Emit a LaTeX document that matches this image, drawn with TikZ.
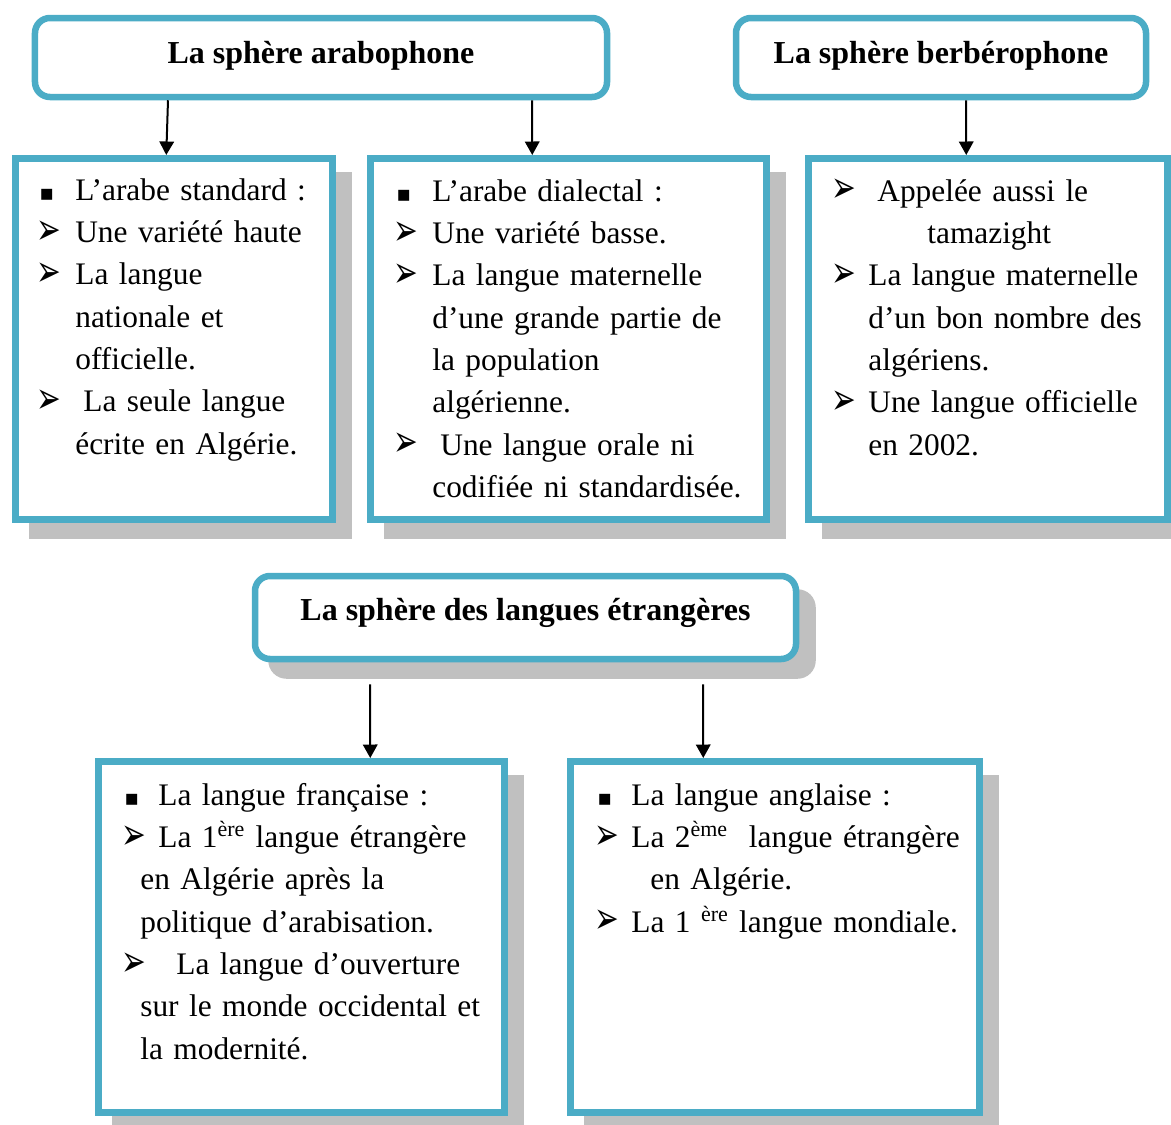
\documentclass[tikz,border=0pt]{standalone}
\usepackage{graphicx}
\usepackage{fontspec}
\setmainfont{Liberation Serif}
\newfontfamily\symfont{DejaVu Sans}
\usetikzlibrary{arrows.meta,calc,shadows}
\definecolor{boxblue}{HTML}{4BACC6}
\definecolor{shadowgray}{HTML}{C0C0C0}
\newdimen\pxu \pxu=0.2mm
\newcommand{\sqbul}[1]{\makebox[#1\pxu][l]{\hspace{1\pxu}\symfont\fontsize{12.5pt}{12pt}\selectfont ▪}}
\newcommand{\arbul}[1]{\makebox[#1\pxu][l]{\hspace{-2\pxu}\raisebox{-1pt}{\scalebox{0.8}[1.2]{\symfont\fontsize{21pt}{12pt}\selectfont ➢}}}}
\newcommand{\ind}[1]{\hspace*{#1\pxu}}
\tikzset{
  head/.style={draw=boxblue, line width=1.3mm, rounded corners=3mm, fill=white,
    font=\bfseries\fontsize{18.2pt}{24pt}\selectfont},
  panel/.style={draw=boxblue, line width=1.3mm, fill=white, anchor=north west},
  dshadow/.style={drop shadow={shadow xshift=3.3mm, shadow yshift=-3.3mm,
    fill=shadowgray, draw=shadowgray, opacity=1}},
  lines/.style={anchor=base west, align=left, text width=75mm, inner sep=0pt,
    font=\fontsize{17.85pt}{24.1pt}\selectfont},
  link/.style={-{Triangle[length=2.7mm,width=2.9mm]}, line width=0.4mm}
}
\begin{document}
\begin{tikzpicture}[x=0.2mm,y=-0.2mm]
  \useasboundingbox (0,0) rectangle (1171,1124);

  \node[head, minimum width=114.4mm, minimum height=15.8mm, text height=4mm, text depth=1.8mm]
    (hA) at (321,57.5) {La sphère arabophone};
  \node[head, minimum width=82mm, minimum height=15.8mm, text height=4mm, text depth=1.8mm]
    (hB) at (941,57.5) {La sphère berbérophone};

  \node[panel, dshadow, minimum width=63.4mm, minimum height=72.2mm] (b1) at (12,155) {};
  \node[panel, dshadow, minimum width=79.2mm, minimum height=72.2mm] (b2) at (367,155) {};
  \node[panel, dshadow, minimum width=71.8mm, minimum height=72.2mm] (b3) at (805,155) {};

  \node[lines] (t1) at ($(b1.north west)+(26,45)$) {%
    \sqbul{37}L’arabe standard :\\
    \arbul{37}Une variété haute\\
    \arbul{37}La langue\\
    \ind{37}nationale et\\
    \ind{37}officielle.\\
    \arbul{45}La seule langue\\
    \ind{37}écrite en Algérie.};
  \node[lines] (t2) at ($(b2.north west)+(28,46)$) {%
    \sqbul{37}L’arabe dialectal :\\
    \arbul{37}Une variété basse.\\
    \arbul{37}La langue maternelle\\
    \ind{37}d’une grande partie de\\
    \ind{37}la population\\
    \ind{37}algérienne.\\
    \arbul{45}Une langue orale ni\\
    \ind{37}codifiée ni standardisée.};
  \node[lines] (t3) at ($(b3.north west)+(28,46)$) {%
    \arbul{44}Appelée aussi le\\
    \ind{94}tamazight\\
    \arbul{35}La langue maternelle\\
    \ind{35}d’un bon nombre des\\
    \ind{35}algériens.\\
    \arbul{35}Une langue officielle\\
    \ind{35}en 2002.};

  \draw[link] ($(hA.south)+(-153,0)$) -- ($(b1.north)+(-7.5,0)$);
  \draw[link] ($(hA.south)+(211,0)$) -- ($(b2.north)+(-36,0)$);
  \draw[link] ($(hB.south)+(25,0)$) -- ($(b3.north)+(-21.5,0)$);

  \node[head, dshadow, minimum width=108.2mm, minimum height=16.6mm, text height=3.5mm, text depth=2.5mm]
    (hC) at (525.5,617.5) {La sphère des langues étrangères};

  \node[panel, dshadow, minimum width=81.2mm, minimum height=70.2mm] (b4) at (95,758) {};
  \node[panel, dshadow, minimum width=81.8mm, minimum height=70.2mm] (b5) at (567,758) {};

  \node[lines] (t4) at ($(b4.north west)+(28,47)$) {%
    \sqbul{35}La langue française :\\
    \arbul{35}La 1\textsuperscript{ère} langue étrangère\\
    \ind{17}en Algérie après la\\
    \ind{17}politique d’arabisation.\\
    \arbul{53}La langue d’ouverture\\
    \ind{17}sur le monde occidental et\\
    \ind{17}la modernité.};
  \node[lines] (t5) at ($(b5.north west)+(29,47)$) {%
    \sqbul{35}La langue anglaise :\\
    \arbul{35}La 2\textsuperscript{ème}\ \ langue étrangère\\
    \ind{54}en Algérie.\\
    \arbul{35}La 1 \textsuperscript{ère} langue mondiale.};

  \draw[link] ($(hC.south)+(-155.5,22)$) -- ($(b4.north)+(69,0)$);
  \draw[link] ($(hC.south)+(177.5,22)$) -- ($(b5.north)+(-71.5,0)$);
\end{tikzpicture}
\end{document}
